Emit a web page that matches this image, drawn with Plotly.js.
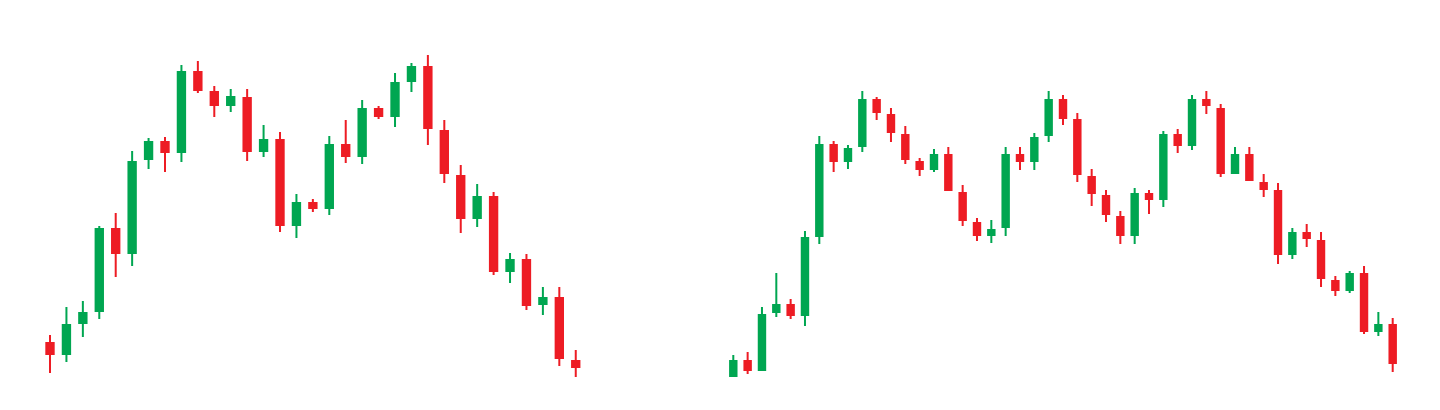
<!DOCTYPE html>
<html>
<head>
<meta charset="utf-8">
<script src="https://cdn.plot.ly/plotly-3.0.1.min.js"></script>
<style>html,body{margin:0;padding:0;background:#fff;}#chart{width:1440px;height:410px;}</style>
</head>
<body>
<div id="chart"></div>
<script>
// Left chart (33 sessions)
var leftIndex = [0,1,2,3,4,5,6,7,8,9,10,11,12,13,14,15,16,17,18,19,20,21,22,23,24,25,26,27,28,29,30,31,32];
var leftOpen  = [67,56,87,99,181,157,251,268,258,338,318,305,312,259,270,185,207,202,265,254,301,294,329,343,279,234,192,213,139,150,106,112,49];
var leftHigh  = [75,103,109,184,197,259,272,273,345,349,324,321,321,285,278,216,211,274,290,310,304,337,347,355,290,245,226,218,157,156,123,123,60];
var leftLow   = [37,48,73,91,133,144,241,238,248,317,293,298,249,253,178,172,198,195,247,246,291,283,318,265,227,177,183,135,127,100,95,44,33];
var leftClose = [56,85,97,181,157,248,268,258,338,320,305,313,259,270,185,207,202,265,254,301,294,327,343,282,237,192,213,139,150,105,112,52,43];

// Right chart (47 sessions)
var rightIndex = [0,1,2,3,4,5,6,7,8,9,10,11,12,13,14,15,16,17,18,19,20,21,22,23,24,25,26,27,28,29,30,31,32,33,34,35,36,37,38,39,40,41,42,43,44,45,46];
var rightOpen  = [34,49,40,98,105,95,174,265,249,264,310,295,275,248,241,255,217,187,175,183,255,249,275,310,290,233,214,193,175,216,211,275,265,310,301,237,255,227,219,156,177,169,129,120,136,79,85];
var rightHigh  = [55,58,103,137,111,179,274,269,265,319,313,302,284,252,261,263,225,192,190,263,263,277,319,315,297,241,220,199,222,220,279,281,315,319,306,263,263,236,227,182,186,178,134,139,144,98,92];
var rightLow   = [33,36,40,93,91,84,166,238,241,258,290,268,246,234,238,219,184,169,167,174,240,240,268,285,228,204,188,166,166,196,203,257,260,296,233,236,229,213,146,151,163,123,114,117,76,74,38];
var rightClose = [49,40,95,105,95,172,265,249,261,310,298,278,251,241,255,220,190,175,180,255,249,272,310,292,236,217,196,175,216,211,275,265,310,305,237,255,230,221,156,177,172,132,120,136,79,85,47];

var GREEN = '#00A651';
var RED = '#ED1C24';

function candle(x, o, h, l, c, xa, ya) {
  return {
    type: 'candlestick',
    x: x, open: o, high: h, low: l, close: c,
    xaxis: xa, yaxis: ya,
    whiskerwidth: 0,
    increasing: {line: {color: GREEN, width: 2}, fillcolor: GREEN},
    decreasing: {line: {color: RED, width: 2}, fillcolor: RED},
    hoverinfo: 'none'
  };
}

var data = [
  candle(leftIndex, leftOpen, leftHigh, leftLow, leftClose, 'x', 'y'),
  candle(rightIndex, rightOpen, rightHigh, rightLow, rightClose, 'x2', 'y2')
];

var hidden = {visible: false, showgrid: false, zeroline: false, fixedrange: true};

var layout = {
  width: 1440, height: 410,
  margin: {l: 0, r: 0, t: 0, b: 0, pad: 0},
  paper_bgcolor: '#ffffff', plot_bgcolor: '#ffffff',
  showlegend: false,
  boxgap: 0.36,
  xaxis: Object.assign({}, hidden, {domain: [0, 0.5], range: [-3.043, 40.78], rangeslider: {visible: false}, anchor: 'y'}),
  yaxis: Object.assign({}, hidden, {domain: [0, 1], range: [0, 410], anchor: 'x'}),
  xaxis2: Object.assign({}, hidden, {domain: [0.5, 1], range: [-0.928, 49.30], rangeslider: {visible: false}, anchor: 'y2'}),
  yaxis2: Object.assign({}, hidden, {domain: [0, 1], range: [0, 410], anchor: 'x2'})
};

Plotly.newPlot('chart', data, layout, {staticPlot: true, displayModeBar: false});
</script>
</body>
</html>
